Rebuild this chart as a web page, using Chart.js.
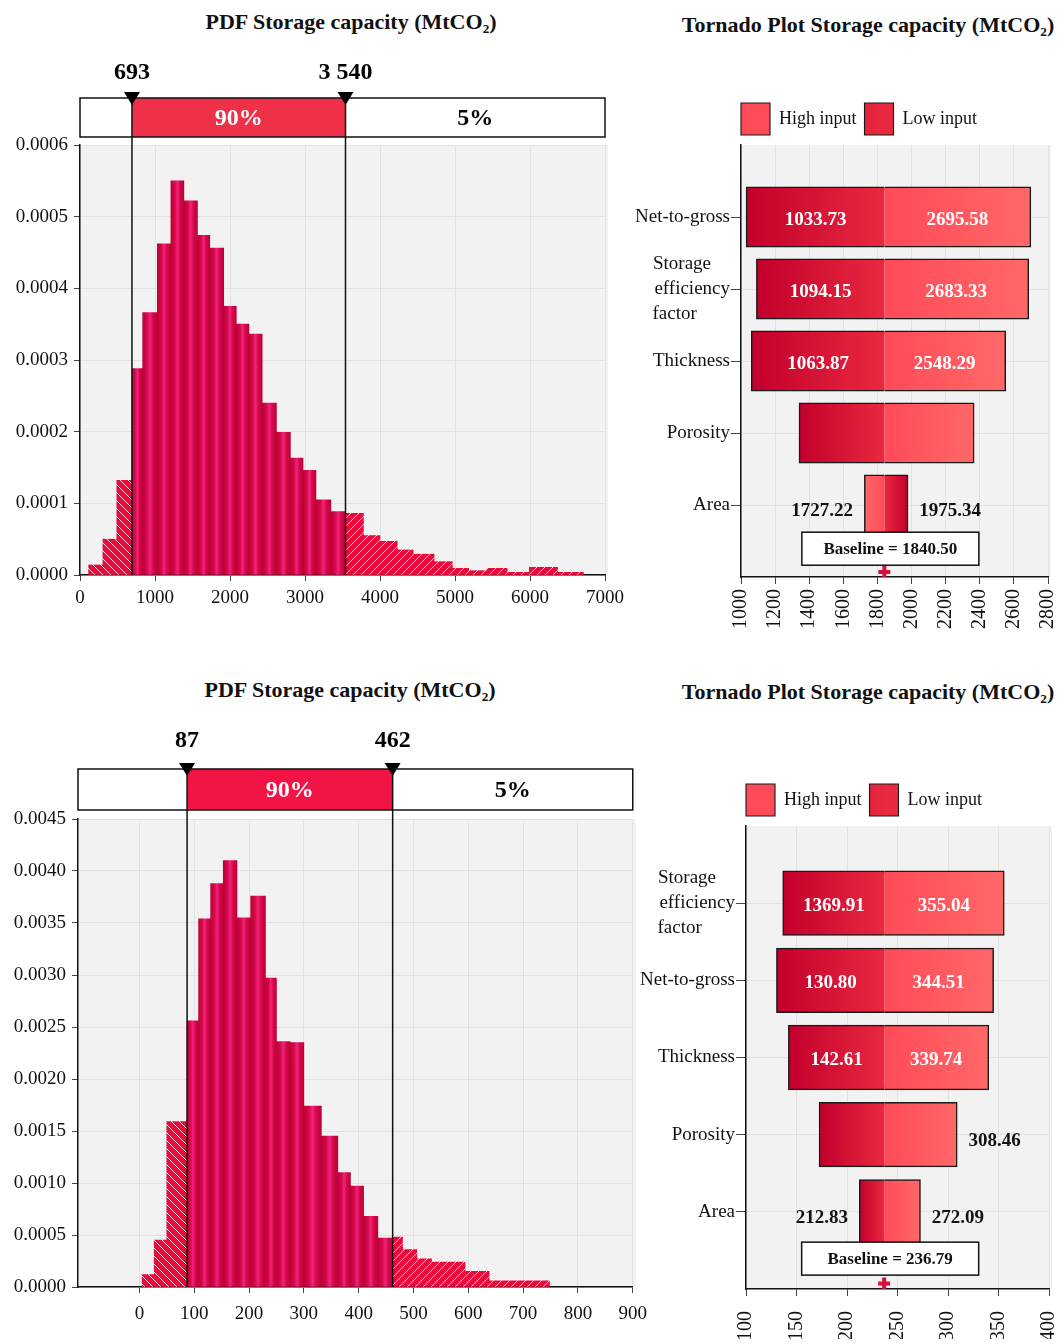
<!DOCTYPE html>
<html>
<head>
<meta charset="utf-8">
<script src="https://cdn.jsdelivr.net/npm/chart.js@4.4.1/dist/chart.umd.min.js"></script>
<style>
  html, body { margin: 0; padding: 0; background: #fff; }
  body { width: 1059px; height: 1344px; position: relative; overflow: hidden;
         font-family: "Liberation Serif", "Times New Roman", serif; }
  canvas { position: absolute; }
  .ttl { position: absolute; font-weight: bold; font-size: 22px; line-height: 24px;
         white-space: nowrap; transform: translateX(-50%); color: #111; }
  .ttl sub { font-size: 60%; line-height: 0; vertical-align: -0.3em; }
</style>
</head>
<body>
<div class="ttl" style="left:351px;top:10px">PDF Storage capacity (MtCO<sub>2</sub>)</div>
<div class="ttl" style="left:868px;top:13px">Tornado Plot Storage capacity (MtCO<sub>2</sub>)</div>
<div class="ttl" style="left:350px;top:678px">PDF Storage capacity (MtCO<sub>2</sub>)</div>
<div class="ttl" style="left:868px;top:680px">Tornado Plot Storage capacity (MtCO<sub>2</sub>)</div>

<canvas id="pdfTop" width="630" height="640" style="left:0;top:0"></canvas>
<canvas id="pdfBottom" width="657" height="674" style="left:0;top:670px"></canvas>
<canvas id="tornadoTop" width="447" height="670" style="left:630px;top:0"></canvas>
<canvas id="tornadoBottom" width="458" height="674" style="left:630px;top:670px"></canvas>

<script>
/* 1. Dados lidos da figura */
// histograma de cima: limites das classes e densidade
const topEdges = [115, 305, 491, 693, 836, 1031, 1212, 1385, 1566, 1730, 1916, 2084, 2252, 2429,
  2619, 2805, 2973, 3146, 3345, 3540, 3779, 4000, 4230, 4442, 4721, 4965, 5181, 5429, 5695,
  5991, 6367, 6712];
const topDensity = [0.000014, 0.00005, 0.000132, 0.000288, 0.000366, 0.000462, 0.00055, 0.000522,
  0.000474, 0.000456, 0.000375, 0.00035, 0.000336, 0.00024, 0.000199, 0.000163, 0.000146,
  0.000105, 0.0000885, 0.0000862, 0.000055, 0.000047, 0.000035, 0.000029, 0.0000186,
  0.0000093, 0.000006, 0.0000093, 0.0000037, 0.0000107, 0.0000037];
const topP5 = 693;
const topP95 = 3540;
const topXTicks = [0, 1000, 2000, 3000, 4000, 5000, 6000, 7000];
const topYTicks = [0, 0.0001, 0.0002, 0.0003, 0.0004, 0.0005, 0.0006];

// histograma de baixo
const botEdges = [5, 27, 50, 87, 108, 130, 153, 178, 203, 230, 250, 275, 300, 332, 362, 385,
  409, 435, 462, 480, 506, 533, 594, 638, 748];
const botDensity = [0.00012, 0.00045, 0.00159, 0.00256, 0.00354, 0.00388, 0.0041, 0.00355,
  0.00376, 0.00297, 0.00236, 0.00235, 0.00174, 0.00145, 0.0011, 0.00097, 0.00068, 0.00047,
  0.00048, 0.00036, 0.00027, 0.00024, 0.00015, 0.00006];
const botP5 = 87;
const botP95 = 462;
const botXTicks = [0, 100, 200, 300, 400, 500, 600, 700, 800, 900];
const botYTicks = [0, 0.0005, 0.001, 0.0015, 0.002, 0.0025, 0.003, 0.0035, 0.004, 0.0045];

const bandLabels = ["90%", "5%"];

// tornado de cima
const trCategories = ["Net-to-gross", ["Storage", "efficiency", "factor"], "Thickness", "Porosity", "Area"];
const trLowInput = [1033.73, 1094.15, 1063.87, 1344, 1975.34];
const trHighInput = [2695.58, 2683.33, 2548.29, 2363, 1727.22];
const trBaseline = 1840.5;
const trLeftText = ["1033.73", "1094.15", "1063.87", "", "1727.22"];
const trRightText = ["2695.58", "2683.33", "2548.29", "", "1975.34"];
const trInside = [true, true, true, false, false];
const trXTicks = [1000, 1200, 1400, 1600, 1800, 2000, 2200, 2400, 2600, 2800];

// tornado de baixo
const brCategories = [["Storage", "efficiency", "factor"], "Net-to-gross", "Thickness", "Porosity", "Area"];
const brLowInput = [136.99, 130.8, 142.61, 173, 212.83];
const brHighInput = [355.04, 344.51, 339.74, 308.46, 272.09];
const brBaseline = 236.79;
const brLeftText = ["1369.91", "130.80", "142.61", "", "212.83"];
const brRightText = ["355.04", "344.51", "339.74", "308.46", "272.09"];
const brInside = [true, true, true, false, false];
const brXTicks = [100, 150, 200, 250, 300, 350, 400];

/* 2. Estilos comuns */
const SERIF = '"Liberation Serif", "Times New Roman", serif';
Chart.defaults.font.family = SERIF;
Chart.defaults.font.size = 19;
Chart.defaults.color = "#111";

const GRID = "#e2e2e2";

function thousands(v) {
  return String(v).replace(/\B(?=(\d{3})+(?!\d))/g, " ");
}

// hachura branca sobre vermelho (caudas de 5%)
const hatchCache = {};
function hatch(ctx, dir) {
  if (hatchCache[dir]) return hatchCache[dir];
  const c = document.createElement("canvas");
  c.width = c.height = 8;
  const g = c.getContext("2d");
  g.fillStyle = "#ea0b3c";
  g.fillRect(0, 0, 8, 8);
  g.strokeStyle = "rgba(255,255,255,0.8)";
  g.lineWidth = 1;
  g.beginPath();
  if (dir === "/") {
    g.moveTo(-1, 9); g.lineTo(9, -1);
    g.moveTo(-1, 1); g.lineTo(1, -1);
    g.moveTo(7, 9); g.lineTo(9, 7);
  } else {
    g.moveTo(-1, -1); g.lineTo(9, 9);
    g.moveTo(7, -1); g.lineTo(9, 1);
    g.moveTo(-1, 7); g.lineTo(1, 9);
  }
  g.stroke();
  hatchCache[dir] = ctx.createPattern(c, "repeat");
  return hatchCache[dir];
}

function histFill(c, edges, p5, p95) {
  if (c.type !== "data") return "#c8003c";
  const i = c.dataIndex;
  if (edges[i + 1] <= p5) return hatch(c.chart.ctx, "\\");
  if (edges[i] >= p95) return hatch(c.chart.ctx, "/");
  const xs = c.chart.scales.x;
  const l = xs.getPixelForValue(edges[i]);
  const r = xs.getPixelForValue(edges[i + 1]);
  if (!Number.isFinite(l) || !Number.isFinite(r)) return "#c8003c";
  const g = c.chart.ctx.createLinearGradient(l, 0, r, 0);
  g.addColorStop(0, "#bd0036");
  g.addColorStop(0.3, "#d50a4c");
  g.addColorStop(0.5, "#f2237a");
  g.addColorStop(0.7, "#d50a4c");
  g.addColorStop(1, "#bd0036");
  return g;
}

const plotBackground = {
  id: "plotBackground",
  beforeDraw(chart) {
    const a = chart.chartArea;
    chart.ctx.save();
    chart.ctx.fillStyle = "#f2f2f2";
    chart.ctx.fillRect(a.left, a.top, a.right - a.left + 3, a.bottom - a.top);
    chart.ctx.restore();
  }
};

// largura de cada barra = limites reais da classe (via escala x)
function binWidths(edges) {
  return {
    id: "binWidths",
    afterDatasetsUpdate(chart) {
      const xs = chart.scales.x;
      chart.getDatasetMeta(0).data.forEach((bar, i) => {
        const l = xs.getPixelForValue(edges[i]);
        const r = xs.getPixelForValue(edges[i + 1]);
        bar.x = (l + r) / 2;
        bar.width = r - l;
      });
    }
  };
}

// faixa 5% / 90% / 5% acima do histograma
function percentileBand(cfg) {
  return {
    id: "percentileBand",
    afterDraw(chart) {
      const { ctx, chartArea: a } = chart;
      const xs = chart.scales.x;
      const bottom = a.top - cfg.gap;
      const top = bottom - cfg.height;
      const x5 = xs.getPixelForValue(cfg.p5);
      const x95 = xs.getPixelForValue(cfg.p95);
      ctx.save();
      ctx.fillStyle = "#fff";
      ctx.fillRect(a.left, top, a.right - a.left, bottom - top);
      ctx.fillStyle = cfg.red;
      ctx.fillRect(x5, top, x95 - x5, bottom - top);
      ctx.strokeStyle = "#111";
      ctx.lineWidth = 1.5;
      ctx.strokeRect(a.left, top, a.right - a.left, bottom - top);
      ctx.beginPath();
      [x5, x95].forEach(px => { ctx.moveTo(px, top); ctx.lineTo(px, a.bottom); });
      ctx.stroke();
      ctx.fillStyle = "#000";
      [x5, x95].forEach(px => {
        ctx.beginPath();
        ctx.moveTo(px - 8, top - 6);
        ctx.lineTo(px + 8, top - 6);
        ctx.lineTo(px, top + 7);
        ctx.closePath();
        ctx.fill();
      });
      ctx.font = "bold 24px " + SERIF;
      ctx.textAlign = "center";
      ctx.textBaseline = "middle";
      ctx.fillText(thousands(cfg.p5), x5, top - cfg.labelLift);
      ctx.fillText(thousands(cfg.p95), x95, top - cfg.labelLift);
      const mid = (top + bottom) / 2 + 1;
      ctx.fillStyle = "#fff";
      ctx.fillText(bandLabels[0], (x5 + x95) / 2, mid);
      ctx.fillStyle = "#000";
      ctx.fillText(bandLabels[1], (x95 + a.right) / 2, mid);
      ctx.restore();
    }
  };
}

function histogram(id, d) {
  return new Chart(document.getElementById(id), {
    type: "bar",
    data: {
      datasets: [{
        data: d.density.map((v, i) => ({ x: (d.edges[i] + d.edges[i + 1]) / 2, y: v })),
        backgroundColor: c => histFill(c, d.edges, d.p5, d.p95),
        borderWidth: 0,
        barPercentage: 1,
        categoryPercentage: 1
      }]
    },
    options: {
      responsive: false,
      animation: false,
      events: [],
      layout: { padding: d.padding },
      plugins: { legend: { display: false }, tooltip: { enabled: false } },
      scales: {
        x: {
          type: "linear", min: d.xMin, max: d.xMax, offset: false,
          afterBuildTicks: ax => { ax.ticks = d.xTicks.map(v => ({ value: v })); },
          afterFit: ax => { ax.height = d.xAxisHeight; },
          grid: { color: GRID, tickColor: "#444", tickLength: 6, offset: false },
          border: { color: "#111", width: 1.5 },
          ticks: { autoSkip: false, maxRotation: 0, padding: d.xTickPad, callback: v => String(v) }
        },
        y: {
          type: "linear", min: 0, max: d.yTicks[d.yTicks.length - 1],
          afterBuildTicks: ax => { ax.ticks = d.yTicks.map(v => ({ value: v })); },
          afterFit: ax => { ax.width = d.yAxisWidth; },
          grid: { color: GRID, tickColor: "#444", tickLength: 6 },
          border: { color: "#111", width: 1.5 },
          ticks: { autoSkip: false, padding: 6, callback: v => v.toFixed(4) }
        }
      }
    },
    plugins: [plotBackground, binWidths(d.edges),
      percentileBand({ p5: d.p5, p95: d.p95, red: d.red, gap: d.boxGap, height: d.boxHeight, labelLift: d.labelLift })]
  });
}

/* 3. Tornado */
function segFill(c, base, kind) {
  const flat = kind === "high" ? "#ff4f5e" : "#cc0c38";
  if (c.type !== "data" || !c.raw) return flat;
  const xs = c.chart.scales.x;
  const [a, b] = c.raw.x;
  const far = a < base ? a : b;
  const p0 = xs.getPixelForValue(far), p1 = xs.getPixelForValue(base);
  if (!Number.isFinite(p0) || !Number.isFinite(p1)) return flat;
  const g = c.chart.ctx.createLinearGradient(p0, 0, p1, 0);
  if (kind === "low") {
    g.addColorStop(0, "#c3002c");
    g.addColorStop(1, "#e8293f");
  } else {
    g.addColorStop(0, "#ff6868");
    g.addColorStop(1, "#ff4a58");
  }
  return g;
}

// contorno só nos lados externos da barra (sem traço na linha de base)
function segBorder(c, base) {
  if (c.type !== "data" || !c.raw) return 1.5;
  return c.raw.x[1] === base
    ? { top: 1.5, bottom: 1.5, left: 1.5, right: 0 }
    : { top: 1.5, bottom: 1.5, left: 0, right: 1.5 };
}

// linhas de rótulo alinhadas à esquerda dentro do bloco
function leftBlock(label) {
  if (!Array.isArray(label)) return label;
  const m = document.createElement("canvas").getContext("2d");
  m.font = "19px " + SERIF;
  const w = label.map(l => m.measureText(l).width);
  const max = Math.max(...w);
  const sp = m.measureText(" ").width;
  return label.map((l, i) => l + " ".repeat(Math.round((max - w[i]) / sp)));
}

// legenda começa na borda esquerda da área do gráfico
const legendAtPlot = {
  id: "legendAtPlot",
  afterLayout(chart) {
    const lg = chart.legend;
    if (!lg) return;
    const shift = chart.chartArea.left - 8 - lg.left;
    lg.left += shift;
    lg.right += shift;
  }
};

function tornadoText(d) {
  return {
    id: "tornadoText",
    afterDatasetsDraw(chart) {
      const { ctx } = chart;
      const xs = chart.scales.x, ys = chart.scales.y;
      const pb = xs.getPixelForValue(d.base);
      ctx.save();
      ctx.font = "bold 19px " + SERIF;
      ctx.textBaseline = "middle";
      d.cats.forEach((_, i) => {
        const lo = Math.min(d.low[i], d.high[i]);
        const hi = Math.max(d.low[i], d.high[i]);
        const pl = xs.getPixelForValue(lo), ph = xs.getPixelForValue(hi);
        const py = ys.getPixelForValue(i);
        if (d.inside[i]) {
          ctx.fillStyle = "#fff";
          ctx.textAlign = "center";
          ctx.fillText(d.leftText[i], (pl + pb) / 2, py + 3);
          ctx.fillText(d.rightText[i], (pb + ph) / 2, py + 3);
        } else {
          ctx.fillStyle = "#111";
          ctx.textAlign = "right";
          ctx.fillText(d.leftText[i], pl - 12, py + 6);
          ctx.textAlign = "left";
          ctx.fillText(d.rightText[i], ph + 12, py + 6);
        }
      });
      const txt = "Baseline = " + d.base.toFixed(2);
      ctx.font = "bold 17px " + SERIF;
      const w = 177;
      const cx = pb + 6, cy = ys.getPixelForValue(4.6);
      ctx.fillStyle = "#fff";
      ctx.fillRect(cx - w / 2, cy - 16, w, 33);
      ctx.strokeStyle = "#111";
      ctx.lineWidth = 1.5;
      ctx.strokeRect(cx - w / 2, cy - 16, w, 33);
      ctx.fillStyle = "#111";
      ctx.textAlign = "center";
      ctx.fillText(txt, cx, cy + 1);
      ctx.restore();
    }
  };
}

function tornado(id, d) {
  const seg = vals => vals.map((v, i) => ({ x: [Math.min(v, d.base), Math.max(v, d.base)], y: i }));
  const barStyle = {
    borderColor: "#1a1a1a",
    borderWidth: c => segBorder(c, d.base),
    borderSkipped: false,
    inflateAmount: 1,
    grouped: false,
    barPercentage: 0.82,
    categoryPercentage: 1
  };
  const labels = d.cats.map(leftBlock);
  return new Chart(document.getElementById(id), {
    type: "bar",
    data: {
      datasets: [
        { label: "High input", data: seg(d.high), backgroundColor: c => segFill(c, d.base, "high"), ...barStyle },
        { label: "Low input", data: seg(d.low), backgroundColor: c => segFill(c, d.base, "low"), ...barStyle },
        { type: "scatter", label: "baseline", data: [{ x: d.base, y: 4.93 }], pointStyle: "cross",
          pointRadius: 6, borderWidth: 4, borderColor: "#d8103c", backgroundColor: "#d8103c" }
      ]
    },
    options: {
      indexAxis: "y",
      responsive: false,
      animation: false,
      events: [],
      layout: { padding: d.padding },
      plugins: {
        tooltip: { enabled: false },
        legend: {
          position: "top",
          align: "start",
          labels: {
            boxWidth: 29, boxHeight: 32, padding: 8, color: "#111",
            font: { size: 18 },
            filter: item => item.datasetIndex < 2
          }
        }
      },
      scales: {
        x: {
          type: "linear", min: d.xTicks[0], max: d.xTicks[d.xTicks.length - 1], offset: false,
          afterBuildTicks: ax => { ax.ticks = d.xTicks.map(v => ({ value: v })); },
          afterFit: ax => { ax.height = d.xAxisHeight; },
          grid: { color: GRID, tickColor: "#444", tickLength: 7, offset: false },
          border: { color: "#111", width: 1.5 },
          ticks: { autoSkip: false, minRotation: 90, maxRotation: 90, padding: d.xTickPad,
                   font: { size: 20 }, callback: v => String(v) }
        },
        y: {
          type: "linear", reverse: true, min: -1, max: 5, offset: false,
          afterBuildTicks: ax => { ax.ticks = labels.map((_, i) => ({ value: i })); },
          afterFit: ax => { ax.width = d.yAxisWidth; },
          grid: { color: GRID, tickColor: "#444", tickLength: 10, offset: false },
          border: { color: "#111", width: 1.5 },
          ticks: { autoSkip: false, padding: 1, font: { size: 19, lineHeight: 1.3 },
                   callback: v => labels[v] }
        }
      }
    },
    plugins: [plotBackground, legendAtPlot, tornadoText(d)]
  });
}

/* 4. Monta os quatro gráficos */
histogram("pdfTop", {
  edges: topEdges, density: topDensity, p5: topP5, p95: topP95,
  xMin: 0, xMax: 7000, xTicks: topXTicks, yTicks: topYTicks,
  padding: { top: 145, left: 0, right: 22, bottom: 25 },
  xAxisHeight: 40, yAxisWidth: 80, xTickPad: 6,
  red: "#ee3048", boxGap: 8, boxHeight: 39, labelLift: 25
});

histogram("pdfBottom", {
  edges: botEdges, density: botDensity, p5: botP5, p95: botP95,
  xMin: -112, xMax: 900, xTicks: botXTicks, yTicks: botYTicks,
  padding: { top: 149, left: 0, right: 6, bottom: 12 },
  xAxisHeight: 45, yAxisWidth: 78, xTickPad: 10,
  red: "#f31446", boxGap: 9, boxHeight: 41, labelLift: 28
});

tornado("tornadoTop", {
  cats: trCategories, low: trLowInput, high: trHighInput, base: trBaseline,
  leftText: trLeftText, rightText: trRightText, inside: trInside, xTicks: trXTicks,
  padding: { top: 95, left: 0, right: 9, bottom: 33 },
  xAxisHeight: 60, yAxisWidth: 111, xTickPad: 5
});

tornado("tornadoBottom", {
  cats: brCategories, low: brLowInput, high: brHighInput, base: brBaseline,
  leftText: brLeftText, rightText: brRightText, inside: brInside, xTicks: brXTicks,
  padding: { top: 106, left: 0, right: 10, bottom: 5 },
  xAxisHeight: 50, yAxisWidth: 116, xTickPad: 15
});
</script>
</body>
</html>
